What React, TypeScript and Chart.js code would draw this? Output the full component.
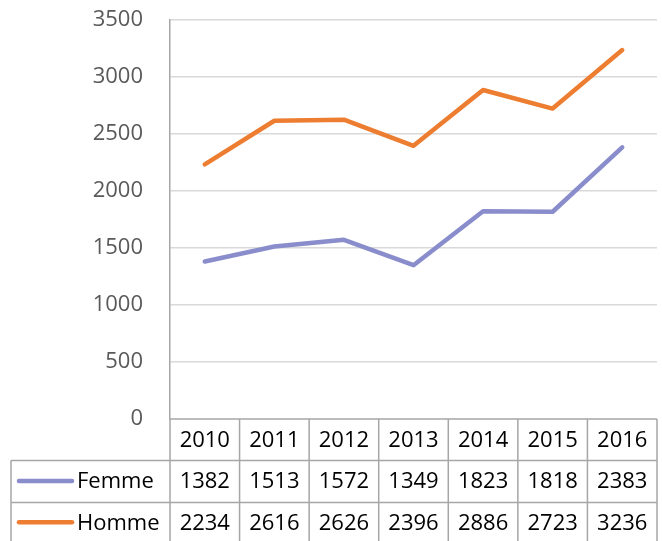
import React, { useEffect, useRef } from "react";
import { Chart, registerables } from "chart.js";

Chart.register(...registerables);

const categories = ["2010", "2011", "2012", "2013", "2014", "2015", "2016"];
const femme = [1382, 1513, 1572, 1349, 1823, 1818, 2383];
const homme = [2234, 2616, 2626, 2396, 2886, 2723, 3236];
const seriesNames = ["Femme", "Homme"];
const seriesColors = ["#8A8DCB", "#ED7D31"];
const yTicks = { min: 0, max: 3500, step: 500 };

const FONT = "'Open Sans', 'Liberation Sans', sans-serif";
const TABLE_LINE = "#A6A6A6";

const tablePlugin = {
  id: "dataTable",
  afterDraw(chart: any) {
    const { ctx, chartArea, scales } = chart;
    const L = chartArea.left;
    const R = chartArea.right;
    const B = chartArea.bottom;
    const rowH = 41.3;
    const n = categories.length;
    const colW = (R - L) / n;
    const legendLeft = 11;
    const bottom = B + rowH * 3;
    ctx.save();
    ctx.strokeStyle = TABLE_LINE;
    ctx.lineWidth = 1.5;
    ctx.beginPath();
    ctx.moveTo(L, B);
    ctx.lineTo(R, B);
    for (let r = 1; r <= 2; r++) {
      const y = Math.round(B + rowH * r) + 0.5;
      ctx.moveTo(legendLeft, y);
      ctx.lineTo(R, y);
    }
    for (let i = 0; i <= n; i++) {
      const x = L + colW * i;
      ctx.moveTo(x, B);
      ctx.lineTo(x, bottom);
    }
    ctx.moveTo(legendLeft, B + rowH);
    ctx.lineTo(legendLeft, bottom);
    ctx.stroke();

    ctx.fillStyle = "#000000";
    ctx.font = `22px ${FONT}`;
    ctx.textAlign = "center";
    ctx.textBaseline = "middle";
    const xs = scales.x;
    categories.forEach((c, i) => {
      ctx.fillText(c, xs.getPixelForValue(i), B + rowH * 0.5 + 1);
    });
    const rows = [femme, homme];
    rows.forEach((vals, r) => {
      const cy = B + rowH * (r + 1.5) + 1;
      vals.forEach((v, i) => {
        ctx.fillText(String(v), xs.getPixelForValue(i), cy);
      });
      ctx.strokeStyle = seriesColors[r];
      ctx.lineWidth = 4.5;
      ctx.lineCap = "round";
      ctx.beginPath();
      ctx.moveTo(19, cy - 1);
      ctx.lineTo(72, cy - 1);
      ctx.stroke();
      ctx.textAlign = "left";
      ctx.fillText(seriesNames[r], 77, cy);
      ctx.textAlign = "center";
    });
    ctx.restore();
  },
};

export default function App() {
  const ref = useRef<HTMLCanvasElement | null>(null);
  useEffect(() => {
    if (!ref.current) return;
    const chart = new Chart(ref.current, {
      type: "line",
      data: {
        labels: categories,
        datasets: [femme, homme].map((d, i) => ({
          label: seriesNames[i],
          data: d,
          borderColor: seriesColors[i],
          backgroundColor: seriesColors[i],
          borderWidth: 4.5,
          pointRadius: 0,
          borderCapStyle: "round" as const,
          borderJoinStyle: "round" as const,
          tension: 0,
        })),
      },
      options: {
        responsive: false,
        animation: false,
        devicePixelRatio: 1,
        layout: { padding: { left: 0, right: 5, top: 20, bottom: 122 } },
        plugins: { legend: { display: false }, tooltip: { enabled: false } },
        scales: {
          x: {
            type: "category",
            display: false,
            offset: true,
          },
          y: {
            min: yTicks.min,
            max: yTicks.max,
            afterFit(scale: any) {
              scale.width = 170;
              scale.paddingTop = 0;
              scale.paddingBottom = 0;
            },
            ticks: {
              stepSize: yTicks.step,
              color: "#595959",
              padding: 27,
              font: { family: FONT, size: 22 },
              callback: (v: any) => String(v),
            },
            grid: {
              color: (c: any) => (c.tick && c.tick.value === 0 ? "rgba(0,0,0,0)" : "#D9D9D9"),
              lineWidth: 1.5,
              drawTicks: false,
            },
            border: { display: true, color: TABLE_LINE, width: 1.5 },
          },
        },
      },
      plugins: [tablePlugin],
    });
    return () => chart.destroy();
  }, []);
  return (
    <div style={{ position: "absolute", left: 0, top: 0, width: 662, height: 541, background: "#fff" }}>
      <canvas ref={ref} width={662} height={541} />
    </div>
  );
}
